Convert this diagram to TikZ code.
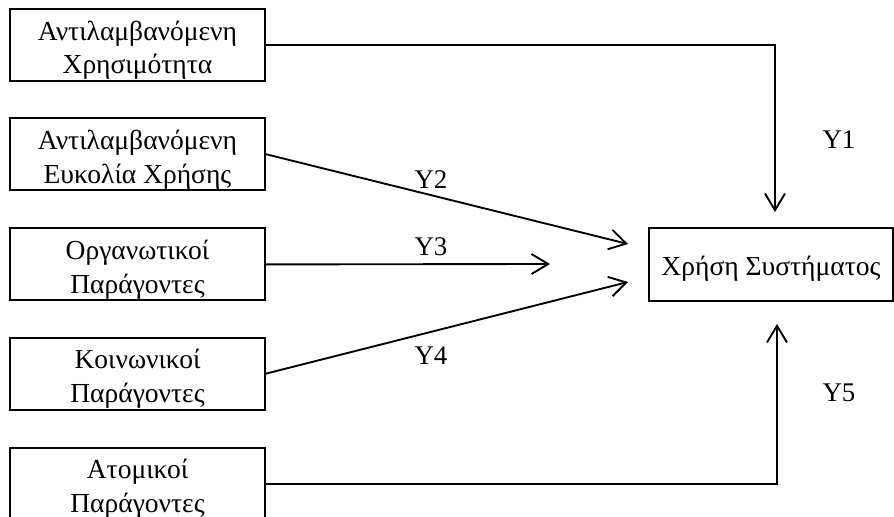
\documentclass[tikz,border=0pt]{standalone}
\usepackage{fontspec}
\setmainfont{Liberation Serif}
\usetikzlibrary{arrows.meta,positioning}

\begin{document}
\begin{tikzpicture}[x=0.03cm, y=-0.03cm,
    factor/.style={rectangle, draw, line width=1.6pt, minimum width=7.65cm, inner sep=0pt, text height=1.95cm, text depth=0.21cm, align=center, font=\fontsize{23.5}{29}\selectfont},
    usage/.style={rectangle, draw, line width=1.6pt, minimum width=7.32cm, inner sep=0pt, text height=1.44cm, text depth=0.75cm, font=\fontsize{23.5}{29}\selectfont},
    link/.style={line width=1.6pt, -{Straight Barb[length=0.5cm, width=0.6cm]}},
    weight/.style={font=\fontsize{23}{24}\selectfont}
]
\useasboundingbox (0,0) rectangle (894,517);

% Factors
\node[factor] (usefulness) at (137.5,45) {Αντιλαμβανόμενη\\Χρησιμότητα};
\node[factor, below=1.06cm of usefulness] (easeofuse) {Αντιλαμβανόμενη\\Ευκολία Χρήσης};
\node[factor, below=1.09cm of easeofuse] (organizational) {Οργανωτικοί\\Παράγοντες};
\node[factor, below=1.06cm of organizational] (social) {Κοινωνικοί\\Παράγοντες};
\node[factor, below=1.09cm of social] (individual) {Ατομικοί\\Παράγοντες};

% Outcome
\node[usage] (systemuse) at (771,264.5) {Χρήση Συστήματος};

% Arrow ends
\coordinate (y1end) at (775,212);
\coordinate (y2end) at (628,244);
\coordinate (y3end) at (550,264);
\coordinate (y4end) at (628,282);
\coordinate (y5end) at (777,324);

% Connections
\draw[link] (usefulness.east) -| (y1end);
\draw[link] (easeofuse.east) -- (y2end);
\draw[link] (organizational.east) -- (y3end);
\draw[link] (social.east) -- (y4end);
\draw[link] (individual.east) -| (y5end);

% Labels
\node[weight] (y1) at (839,140) {Y1};
\node[weight] (y2) at (431,180) {Y2};
\node[weight] (y3) at (431,247) {Y3};
\node[weight] (y4) at (431,356) {Y4};
\node[weight] (y5) at (839,393) {Y5};

\end{tikzpicture}
\end{document}
